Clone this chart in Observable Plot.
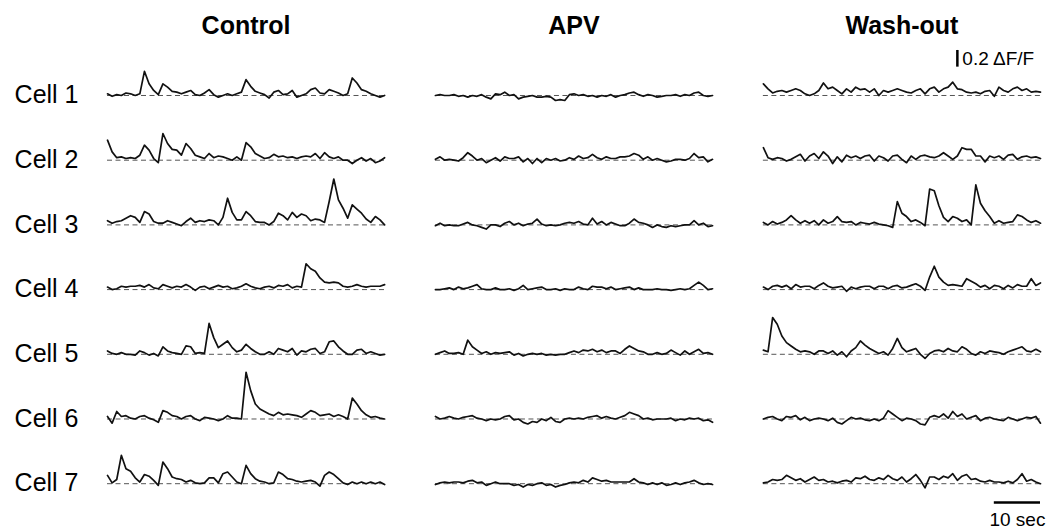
<!DOCTYPE html>
<html><head><meta charset="utf-8">
<script src="https://cdn.jsdelivr.net/npm/d3@7"></script>
<script src="https://cdn.jsdelivr.net/npm/@observablehq/plot@0.6"></script>
<style>
html,body{margin:0;padding:0;background:#fff;}
#chart svg{display:block;}
</style></head><body><div id="chart"></div>
<script>
// Conditions (columns) and cells (rows)
const conditions = ["Control", "APV", "Wash-out"];
const cells = ["Cell 1", "Cell 2", "Cell 3", "Cell 4", "Cell 5", "Cell 6", "Cell 7"];
const sampleInterval = 1; // seconds between samples

// ΔF/F traces, in percent (value / 100 = ΔF/F), one sample per second
const ctrl1 = [2,-1,1,0,3,2,0,2,29,14,6,1,14,10,5,4,2,4,6,1,0,3,7,1,-2,0,2,0,2,4,19,11,5,3,1,-3,4,6,1,2,6,-2,0,2,7,9,3,2,7,5,3,0,2,21,15,7,5,2,0,-2,0];
const ctrl2 = [24,10,3,4,2,3,2,6,18,12,2,-3,32,20,13,12,6,20,14,6,4,2,8,3,5,4,2,0,4,0,21,16,8,5,2,3,7,4,5,3,4,2,4,5,4,8,2,9,4,2,4,0,0,-4,0,3,-1,2,-3,-1,3];
const ctrl3 = [5,2,4,5,8,11,9,3,16,13,4,2,2,5,3,1,-1,4,8,3,5,4,6,5,0,9,32,15,6,6,16,11,4,3,3,0,4,14,11,6,15,9,13,11,5,7,6,3,28,55,30,20,8,24,19,14,7,3,10,6,0];
const ctrl4 = [3,0,1,4,3,4,4,5,3,6,2,1,6,4,2,4,3,6,3,-1,3,4,1,3,5,3,4,1,2,4,7,4,2,1,3,4,2,5,4,6,2,4,3,31,25,22,14,9,8,9,8,4,3,4,6,4,3,4,4,4,6];
const ctrl5 = [4,1,0,2,0,0,-1,4,2,-1,1,-2,9,4,2,1,0,10,9,1,2,1,37,20,8,12,16,8,3,5,12,7,3,0,0,3,0,7,5,3,7,-1,4,3,6,7,1,3,15,16,9,4,0,0,5,6,1,3,1,-1,0];
const ctrl6 = [3,-5,9,3,4,1,0,3,4,1,-1,-4,10,8,4,3,0,3,4,0,-2,2,1,0,-2,0,4,1,1,0,56,34,18,12,9,6,4,8,5,6,5,4,2,6,10,8,4,5,6,3,5,3,0,25,18,10,5,2,3,1,0];
const ctrl7 = [10,1,5,34,18,15,7,2,11,9,4,-2,26,18,8,6,5,2,4,1,0,1,7,7,1,12,14,8,2,0,22,12,6,3,2,0,1,14,11,6,5,3,2,3,4,2,-3,10,14,11,6,1,-1,2,0,2,0,2,0,2,-1];

const apv1 = [0,1,0,0,1,-1,0,-2,0,-1,1,-2,-4,2,1,4,0,1,-4,-2,-1,0,-2,-2,-1,-2,-6,-5,-6,1,2,0,1,-1,0,-2,0,-1,1,-2,0,1,3,4,1,-1,1,0,-2,-1,0,0,1,-1,1,0,3,4,0,-1,0];
const apv2 = [1,4,0,1,0,-1,3,9,5,0,2,-3,0,3,-1,4,2,2,4,-2,2,-4,2,-3,2,0,2,-1,0,3,1,5,2,3,7,3,1,4,2,2,4,4,5,8,6,1,4,0,2,0,-2,-1,1,1,0,2,8,3,4,-2,1];
const apv3 = [-1,2,-1,0,-1,-1,1,3,0,-1,-3,-5,0,0,-2,2,4,0,2,-1,1,2,7,1,-1,0,-1,0,2,3,2,4,1,0,8,1,4,0,3,1,-1,-1,2,7,3,2,0,-3,0,-2,-3,-1,-2,-1,0,0,5,0,2,-2,-1];
const apv4 = [0,0,1,2,0,3,1,2,4,6,1,0,0,2,0,0,1,-1,1,5,0,1,2,3,0,0,1,-1,1,0,0,3,1,0,4,3,3,1,3,0,1,2,3,0,2,0,0,0,1,0,0,-1,0,1,0,1,5,9,5,0,1];
const apv5 = [0,2,4,1,1,2,0,17,9,5,1,3,0,2,1,2,3,-1,1,-2,0,1,0,1,-1,0,-1,0,0,2,4,2,5,4,6,3,5,2,4,4,1,6,10,7,4,3,0,0,2,0,1,5,2,-1,4,0,3,6,1,2,0];
const apv6 = [3,0,1,3,1,0,2,3,4,1,0,-2,0,-1,0,3,4,-1,0,-4,-6,-3,-4,0,-2,2,-3,-4,0,1,0,1,0,2,3,4,1,3,1,0,2,4,8,6,4,0,1,-1,0,0,0,1,-2,0,-1,1,0,1,-2,-1,-4];
const apv7 = [-1,1,2,1,2,2,1,3,4,1,2,-2,0,2,0,0,0,-2,-1,-4,-1,-2,0,1,-2,-1,-4,-2,-1,1,2,1,4,2,7,5,3,4,2,2,2,2,2,6,2,1,-1,1,-1,1,-2,-1,1,-1,1,2,4,1,-1,0,-1];

const wash1 = [14,8,3,5,6,4,6,8,6,2,0,2,6,15,8,10,6,2,8,4,10,7,8,4,8,0,6,4,6,8,6,4,3,6,8,2,8,10,4,8,10,16,8,7,4,3,4,2,5,6,-1,10,6,4,8,10,6,8,4,5,4];
const wash2 = [15,3,1,3,2,-1,1,4,7,-1,5,8,2,10,5,-4,4,-2,6,3,5,2,5,6,-1,5,3,-1,5,6,1,-3,5,1,5,6,4,3,5,9,5,1,5,15,13,13,5,5,-2,5,3,5,1,6,7,1,4,5,3,4,2];
const wash3 = [3,0,4,1,3,6,11,6,2,5,2,5,0,6,2,4,10,4,3,4,0,3,2,1,3,1,0,-1,-3,28,14,10,4,6,3,-1,43,41,23,9,4,10,8,4,6,0,48,26,17,10,2,5,2,3,4,12,10,6,3,5,2];
const wash4 = [3,0,4,5,3,5,1,6,3,4,4,1,5,8,4,2,3,4,-2,3,1,3,4,4,1,4,4,1,4,5,2,3,5,7,4,-1,15,28,15,9,5,6,5,4,13,10,7,3,5,1,5,4,1,5,2,6,4,4,13,5,8];
const wash5 = [5,3,44,36,22,14,10,6,3,4,3,0,4,4,1,4,-1,3,-3,4,8,16,11,7,4,1,3,-1,7,19,8,3,5,7,0,-5,1,4,5,3,7,4,3,9,6,1,-1,3,1,4,3,2,0,3,5,7,9,4,3,6,3];
const wash6 = [0,2,3,0,-2,3,2,4,-1,2,-2,0,1,0,-2,1,-4,-6,-2,2,0,1,-1,-2,0,-2,1,10,6,2,-2,1,0,-2,-6,-7,2,4,2,6,1,9,3,6,0,2,4,-2,1,2,0,-1,-2,2,0,-2,0,2,1,3,-5];
const wash7 = [1,2,5,4,5,10,7,4,6,2,5,8,4,5,2,3,1,3,4,2,7,6,9,5,4,7,5,10,6,4,8,2,6,11,4,-5,8,8,5,9,7,12,4,9,11,5,6,3,2,4,2,2,1,3,1,5,12,3,5,2,0];

// Scale bar magnitudes
const scaleDff = 0.2;   // ΔF/F
const scaleSec = 10;    // seconds

// Build a tidy table for Plot
const traceList = [
  ["Control", ctrl1, ctrl2, ctrl3, ctrl4, ctrl5, ctrl6, ctrl7],
  ["APV", apv1, apv2, apv3, apv4, apv5, apv6, apv7],
  ["Wash-out", wash1, wash2, wash3, wash4, wash5, wash6, wash7]
];
const rows = [];
for (const [cond, ...series] of traceList) {
  series.forEach((vals, k) => {
    vals.forEach((v, i) => rows.push({cond, cell: cells[k], t: i * sampleInterval, dff: v / 100}));
  });
}
const duration = (ctrl1.length - 1) * sampleInterval;

// Scale-bar annotations (in the Wash-out column)
const vBar = [{cond: "Wash-out", cell: "Cell 1", t: 42, y1: 0.34, y2: 0.34 + scaleDff, label: `${scaleDff} ΔF/F`}];
const hBar = [{cond: "Wash-out", cell: "Cell 7", x1: duration - scaleSec, x2: duration, y: -0.225, label: `${scaleSec} sec`}];

const font = "'Liberation Sans', Arial, Helvetica, sans-serif";

const chart = Plot.plot({
  width: 1051,
  height: 530,
  marginLeft: 107,
  marginRight: 11,
  marginTop: 48.3,
  marginBottom: 28.8,
  style: {fontFamily: font, background: "#fff", color: "#000"},
  fx: {domain: conditions, paddingInner: 0.155, paddingOuter: 0, round: false, label: null},
  fy: {domain: cells, paddingInner: 0, paddingOuter: 0, round: false, label: null},
  x: {domain: [0, duration], axis: null},
  y: {domain: [-0.216, 0.56], axis: null},
  marks: [
    Plot.axisFx({anchor: "top", tickSize: 0, tickPadding: 15, fontSize: 25, fontWeight: "bold", label: null}),
    Plot.axisFy({anchor: "left", tickSize: 0, tickPadding: 29, fontSize: 25, dy: 14, label: null}),
    Plot.ruleY([0], {stroke: "#555", strokeWidth: 1, strokeDasharray: "5,3.5"}),
    Plot.line(rows, {x: "t", y: "dff", fx: "cond", fy: "cell", stroke: "#111", strokeWidth: 1.7, strokeLinejoin: "round"}),
    Plot.ruleX(vBar, {x: "t", y1: "y1", y2: "y2", fx: "cond", fy: "cell", stroke: "#000", strokeWidth: 2.5}),
    Plot.text(vBar, {x: "t", y: d => (d.y1 + d.y2) / 2, text: "label", fx: "cond", fy: "cell", textAnchor: "start", dx: 5, fontSize: 19, fill: "#000"}),
    Plot.ruleY(hBar, {x1: "x1", x2: "x2", y: "y", fx: "cond", fy: "cell", stroke: "#000", strokeWidth: 2.5}),
    Plot.text(hBar, {x: d => (d.x1 + d.x2) / 2, y: "y", text: "label", fx: "cond", fy: "cell", dy: 17, fontSize: 19, fill: "#000"})
  ]
});
document.getElementById("chart").appendChild(chart);
</script>
</body></html>
